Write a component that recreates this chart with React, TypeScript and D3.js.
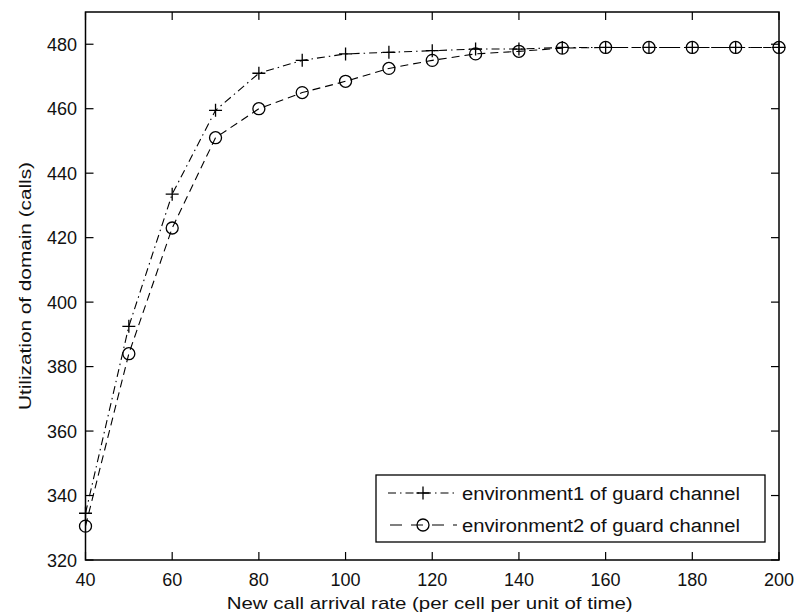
import React from "react";
import * as d3 from "d3";

const xValues = [40, 50, 60, 70, 80, 90, 100, 110, 120, 130, 140, 150, 160, 170, 180, 190, 200];
const env1 = [334.5, 392.5, 433.5, 459.5, 471, 475, 477, 477.5, 478, 478.5, 478.5, 479, 479, 479, 479, 479, 479];
const env2 = [330.5, 384, 423, 451, 460, 465, 468.5, 472.5, 475, 477, 477.8, 478.8, 479, 479, 479, 479, 479];
const xTicks = [40, 60, 80, 100, 120, 140, 160, 180, 200];
const yTicks = [320, 340, 360, 380, 400, 420, 440, 460, 480];
const seriesNames = ["environment1 of guard channel", "environment2 of guard channel"];
const xTitle = "New call arrival rate (per cell per unit of time)";
const yTitle = "Utilization of domain (calls)";

const W = 798;
const H = 616;
const L = 85.5, R = 779, T = 12, B = 560;
const FONT = "'Liberation Sans', Arial, sans-serif";

export default function App() {
  const x = d3.scaleLinear().domain([40, 200]).range([L, R]);
  const y = d3.scaleLinear().domain([320, 490]).range([B, T]);
  const line = d3.line<number>().x((_, i) => x(xValues[i])).y((d) => y(d));
  const dash1 = "8,4,1.5,4";
  const dash2 = "8,5";
  const plus = (cx: number, cy: number, k: string) => (
    <path key={k} d={`M${cx - 6.5},${cy}H${cx + 6.5}M${cx},${cy - 6.5}V${cy + 6.5}`} stroke="#000" strokeWidth={1.3} fill="none" />
  );
  const circ = (cx: number, cy: number, k: string) => (
    <circle key={k} cx={cx} cy={cy} r={6} stroke="#000" strokeWidth={1.3} fill="none" />
  );
  const tick = 8;
  const legL = 376, legT = 475, legR = 765, legB = 542;
  const row1 = 493, row2 = 525;
  return (
    <svg width={W} height={H} style={{ position: "absolute", left: 0, top: 0, background: "#fff" }}>
      <rect x={0} y={0} width={W} height={H} fill="#fff" />
      <g stroke="#000" strokeWidth={1.2}>
        {xTicks.map((t) => (
          <g key={"xt" + t}>
            <line x1={x(t)} x2={x(t)} y1={B} y2={B - tick} />
            <line x1={x(t)} x2={x(t)} y1={T} y2={T + tick} />
          </g>
        ))}
        {yTicks.map((t) => (
          <g key={"yt" + t}>
            <line x1={L} x2={L + tick} y1={y(t)} y2={y(t)} />
            <line x1={R} x2={R - tick} y1={y(t)} y2={y(t)} />
          </g>
        ))}
      </g>
      <path d={line(env1) || ""} fill="none" stroke="#000" strokeWidth={1.1} strokeDasharray={dash1} />
      <path d={line(env2) || ""} fill="none" stroke="#000" strokeWidth={1.1} strokeDasharray={dash2} />
      {env1.map((v, i) => plus(x(xValues[i]), y(v), "p" + i))}
      {env2.map((v, i) => circ(x(xValues[i]), y(v), "c" + i))}
      <rect x={L} y={T} width={R - L} height={B - T} fill="none" stroke="#000" strokeWidth={1.5} />
      <g fontFamily={FONT} fontSize={18} fill="#111">
        {xTicks.map((t) => (
          <text key={"xl" + t} x={x(t)} y={586} textAnchor="middle">{t}</text>
        ))}
        {yTicks.map((t) => (
          <text key={"yl" + t} x={77} y={y(t) + 6.5} textAnchor="end">{t}</text>
        ))}
        <text x={226.7} y={609} fontSize={17} textLength={406} lengthAdjust="spacingAndGlyphs">{xTitle}</text>
        <text transform={`translate(31,410) rotate(-90)`} fontSize={17} textLength={248} lengthAdjust="spacingAndGlyphs">{yTitle}</text>
      </g>
      <rect x={legL} y={legT} width={legR - legL} height={legB - legT} fill="#fff" stroke="#000" strokeWidth={1.3} />
      <line x1={388} x2={457} y1={row1} y2={row1} stroke="#000" strokeWidth={1.1} strokeDasharray={dash1} />
      {plus(423, row1, "lp")}
      <line x1={388} x2={457} y1={row2} y2={row2} stroke="#000" strokeWidth={1.1} strokeDasharray="12,9" strokeDashoffset={-2} />
      {circ(423, row2, "lc")}
      <g fontFamily={FONT} fontSize={18} fill="#111">
        <text x={462} y={row1 + 6.5} textLength={278} lengthAdjust="spacingAndGlyphs">{seriesNames[0]}</text>
        <text x={462} y={row2 + 6.5} textLength={278} lengthAdjust="spacingAndGlyphs">{seriesNames[1]}</text>
      </g>
    </svg>
  );
}
